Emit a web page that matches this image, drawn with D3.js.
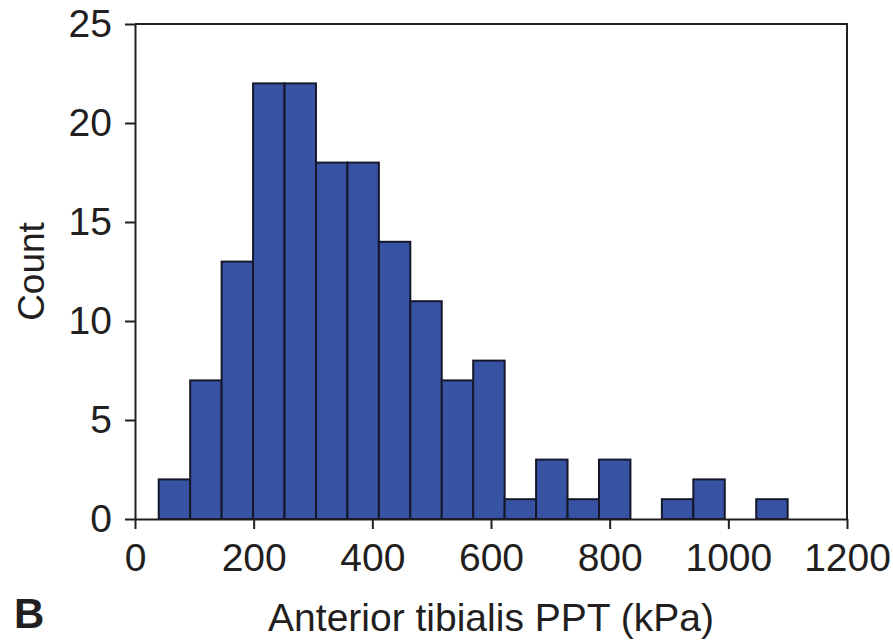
<!DOCTYPE html>
<html>
<head>
<meta charset="utf-8">
<script src="https://cdn.jsdelivr.net/npm/d3@7"></script>
<style>
  body { margin: 0; background: #fff; }
  svg text { font-family: "Liberation Sans", Arial, Helvetica, sans-serif; fill: #231f20; }
</style>
</head>
<body>
<svg id="chart" width="893" height="641"></svg>
<script>
// histogram bins (kPa) and counts
const binEdges = [40, 93, 146, 199, 252, 305, 358, 411, 464, 517, 570,
  623, 676, 729, 782, 835, 888, 941, 994, 1047, 1100];
const counts = [2, 7, 13, 22, 22, 18, 18, 14, 11, 7, 8, 1, 3, 1, 3, 0, 1, 2, 0, 1];
const xTicks = [0, 200, 400, 600, 800, 1000, 1200];
const yTicks = [0, 5, 10, 15, 20, 25];

const margin = { top: 24, left: 135, right: 46, bottom: 122 };
const width = 893 - margin.left - margin.right;
const height = 641 - margin.top - margin.bottom;
const ink = '#231f20';
const fontSize = 39;

const svg = d3.select('#chart');
const g = svg.append('g')
  .attr('transform', `translate(${margin.left},${margin.top})`);

const x = d3.scaleLinear().domain([0, 1200]).range([0, width]);
const y = d3.scaleLinear().domain([0, 25]).range([height, 0]);

const bins = counts.map((c, i) => ({ x0: binEdges[i], x1: binEdges[i + 1], count: c }));

g.selectAll('rect.bar')
  .data(bins.filter(d => d.count > 0))
  .enter()
  .append('rect')
  .attr('class', 'bar')
  .attr('x', d => x(d.x0))
  .attr('width', d => x(d.x1) - x(d.x0))
  .attr('y', d => y(d.count))
  .attr('height', d => y(0) - y(d.count))
  .attr('fill', '#3953a4')
  .attr('stroke', '#15182b')
  .attr('stroke-width', 2);

// frame: top and right edges
g.append('path')
  .attr('d', `M${x(0)},${y(25)}H${x(1200)}V${y(0)}`)
  .attr('fill', 'none')
  .attr('stroke', ink)
  .attr('stroke-width', 2);

const xAxis = g.append('g')
  .attr('transform', `translate(0,${height})`)
  .call(d3.axisBottom(x).tickValues(xTicks).tickFormat(d3.format('d'))
    .tickSize(10).tickSizeOuter(0).tickPadding(14));

const yAxis = g.append('g')
  .call(d3.axisLeft(y).tickValues(yTicks).tickFormat(d3.format('d'))
    .tickSize(10).tickSizeOuter(0).tickPadding(13));

[xAxis, yAxis].forEach(ax => {
  ax.select('.domain').attr('stroke', ink).attr('stroke-width', 2);
  ax.selectAll('.tick line').attr('stroke', ink).attr('stroke-width', 2);
  ax.selectAll('.tick text')
    .attr('font-size', fontSize)
    .style('font-family', '"Liberation Sans", Arial, sans-serif')
    .attr('fill', ink);
});

svg.append('text')
  .attr('x', margin.left + width / 2)
  .attr('y', 631)
  .attr('text-anchor', 'middle')
  .attr('font-size', 39)
  .text('Anterior tibialis PPT (kPa)');

svg.append('text')
  .attr('transform', `translate(44,${margin.top + height / 2}) rotate(-90)`)
  .attr('text-anchor', 'middle')
  .attr('font-size', 37)
  .text('Count');

svg.append('text')
  .attr('x', 14)
  .attr('y', 628)
  .attr('font-size', 42)
  .attr('font-weight', 'bold')
  .text('B');
</script>
</body>
</html>
